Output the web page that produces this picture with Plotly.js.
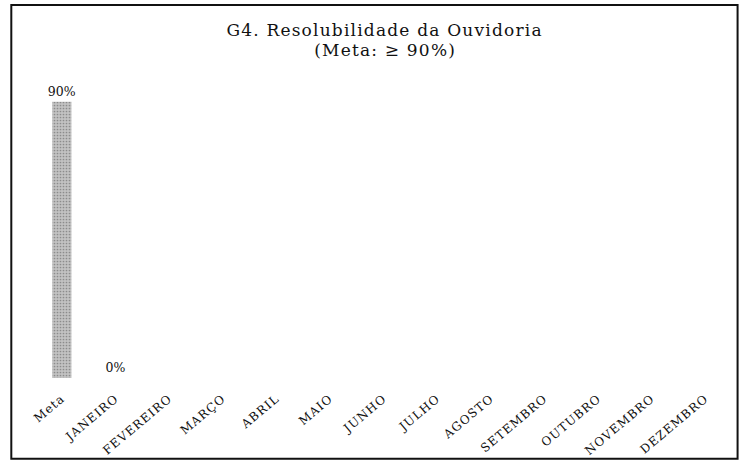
<!DOCTYPE html>
<html>
<head>
<meta charset="utf-8">
<script src="https://cdn.plot.ly/plotly-3.0.1.min.js"></script>
<style>
html,body{margin:0;padding:0;background:#fff;}
#chart{width:742px;height:465px;}
#chart .annotation-text{letter-spacing:1.2px;}
#chart .xtick text{letter-spacing:1.1px;}
</style>
</head>
<body>
<div id="chart"></div>
<script>
const categories = ["Meta","JANEIRO","FEVEREIRO","MARÇO","ABRIL","MAIO","JUNHO","JULHO","AGOSTO","SETEMBRO","OUTUBRO","NOVEMBRO","DEZEMBRO"];
const values = [90, 0, null, null, null, null, null, null, null, null, null, null, null];
const labels = values.map(v => v === null ? "" : v + "%");
const titleLines = ["G4. Resolubilidade da Ouvidoria", "(Meta: ≥ 90%)"];

const serif = "'DejaVu Serif', 'Liberation Serif', serif";

const trace = {
  type: "bar",
  x: categories,
  y: values,
  text: labels,
  textposition: "outside",
  constraintext: "none",
  cliponaxis: false,
  textfont: {family: serif, size: 12.5, color: "#111"},
  marker: {
    color: "#b4b4b4",
    line: {width: 0},
    pattern: {shape: ".", fgcolor: "#8c8c8c", bgcolor: "#c2c2c2", size: 3, solidity: 0.25}
  },
  width: 0.36,
  hoverinfo: "skip"
};

const layout = {
  width: 742,
  height: 465,
  margin: {l: 35, r: 10, t: 71, b: 87},
  paper_bgcolor: "#fff",
  plot_bgcolor: "#fff",
  showlegend: false,
  font: {family: serif},
  annotations: [
    {text: titleLines[0], xref: "paper", yref: "paper", x: 0.502, y: 1.1336,
     xanchor: "center", yanchor: "middle", showarrow: false,
     font: {family: serif, size: 17, color: "#111"}},
    {text: titleLines[1], xref: "paper", yref: "paper", x: 0.502, y: 1.068,
     xanchor: "center", yanchor: "middle", showarrow: false,
     font: {family: serif, size: 17, color: "#111"}}
  ],
  xaxis: {
    type: "category",
    tickangle: -40,
    tickfont: {family: serif, size: 12, color: "#111"},
    showline: false,
    showgrid: false,
    ticks: "outside",
    ticklen: 8,
    tickcolor: "rgba(0,0,0,0)",
    zeroline: false
  },
  yaxis: {
    range: [0, 100],
    visible: false,
    showgrid: false,
    zeroline: false
  },
  shapes: [
    {type: "rect", xref: "paper", yref: "paper", x0: -0.034, x1: 1.008, y0: -0.263, y1: 1.215,
     line: {color: "#111", width: 2}},
    {type: "line", xref: "paper", yref: "y", x0: 0, x1: 1, y0: -0.6, y1: -0.6,
     line: {color: "#d0d0d0", width: 1, dash: "dot"}}
  ]
};

Plotly.newPlot("chart", [trace], layout, {displayModeBar: false, staticPlot: true});
</script>
</body>
</html>
